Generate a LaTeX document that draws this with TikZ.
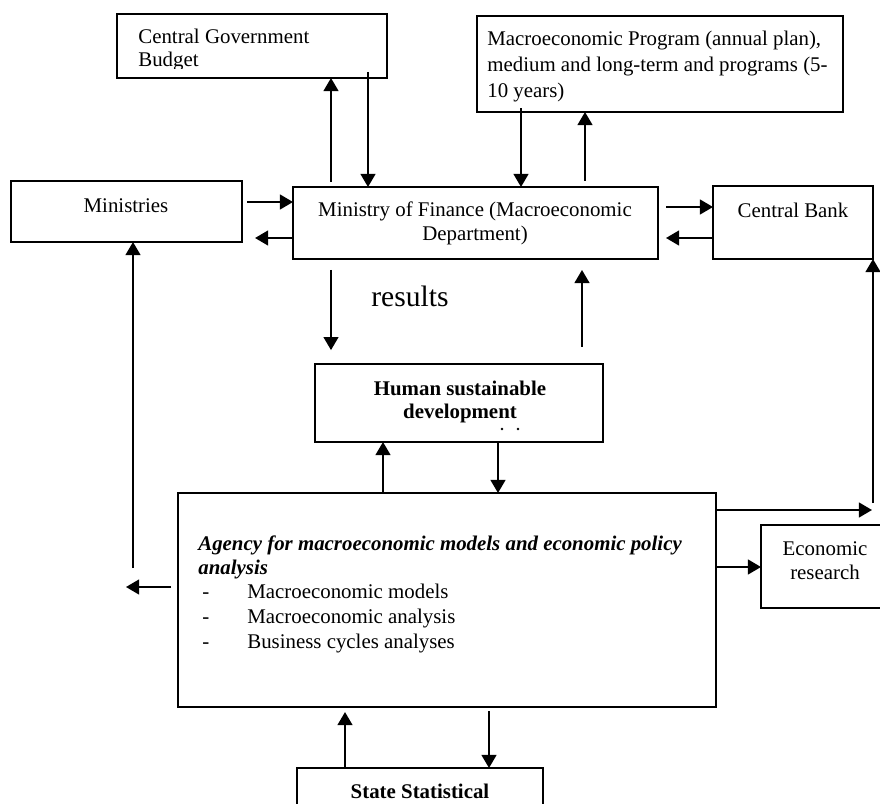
\documentclass[tikz,border=0pt]{standalone}
\usepackage{fontspec}
\setmainfont{Liberation Serif}
\usetikzlibrary{arrows.meta}
\begin{document}
\begin{tikzpicture}[x=0.575pt,y=-0.575pt,
  box/.style={draw,line width=1.1pt,anchor=north west,inner sep=0pt,outer sep=0pt},
  lbl/.style={inner sep=0pt,font=\fontsize{12}{14}\selectfont},
  arr/.style={line width=1.1pt,-{Triangle[length=7.5pt,width=8.5pt]}}]
\useasboundingbox (0,0) rectangle (880,804);

% boxes (size in px times 0.575pt)
\node[box,minimum width={270*0.575pt},minimum height={64*0.575pt}] (cgb) at (117,14) {};
\node[box,minimum width={366*0.575pt},minimum height={96*0.575pt}] (macro) at (477,16) {};
\node[box,minimum width={231*0.575pt},minimum height={61*0.575pt}] (min) at (11,181) {};
\node[box,minimum width={365*0.575pt},minimum height={72*0.575pt}] (mof) at (293,187) {};
\node[box,minimum width={160*0.575pt},minimum height={73*0.575pt}] (cb) at (713,186) {};
\node[box,minimum width={288*0.575pt},minimum height={78*0.575pt}] (hsd) at (315,364) {};
\node[box,minimum width={538*0.575pt},minimum height={214*0.575pt}] (agency) at (178,493) {};
\node[box,minimum width={130*0.575pt},minimum height={83*0.575pt}] (econ) at (761,525) {};
\node[box,minimum width={246*0.575pt},minimum height={60*0.575pt}] (state) at (297,768) {};

% texts
\node[lbl,anchor=base west] (cgbA) at (138,43) {Central Government};
\begin{scope}
  \clip (117,14) rectangle (387,68.5);
  \node[lbl,anchor=base west] (cgbB) at (138,67) {Budget};
\end{scope}
\node[lbl,anchor=base west] (macroA) at (487,45) {Macroeconomic Program (annual plan),};
\node[lbl,anchor=base west] (macroB) at (487,71) {medium and long-term and programs (5-};
\node[lbl,anchor=base west] (macroC) at (487,97) {10 years)};
\node[lbl,anchor=base] (minT) at (126,212) {Ministries};
\node[lbl,anchor=base] (mofA) at (475,216) {Ministry of Finance (Macroeconomic};
\node[lbl,anchor=base] (mofB) at (475,240) {Department)};
\node[lbl,anchor=base] (cbT) at (793,217) {Central Bank};
\node[lbl,anchor=base west,font=\fontsize{17}{20}\selectfont] (res) at (371,306) {results};
\node[lbl,anchor=base,font=\fontsize{12}{14}\selectfont\bfseries] (hsdA) at (460,395) {Human sustainable};
\node[lbl,anchor=base,font=\fontsize{12}{14}\selectfont\bfseries] (hsdB) at (460,418) {development};
\fill (502,429) circle[radius=0.8pt] (518,429) circle[radius=0.8pt];
\node[lbl,anchor=base west,font=\fontsize{12}{14}\selectfont\bfseries\itshape] (agA) at (198,550) {Agency for macroeconomic models and economic policy};
\node[lbl,anchor=base west,font=\fontsize{12}{14}\selectfont\bfseries\itshape] (agB) at (198,574) {analysis};
\node[lbl,anchor=base west] (d1) at (202,598) {-};
\node[lbl,anchor=base west] (d2) at (202,623) {-};
\node[lbl,anchor=base west] (d3) at (202,648) {-};
\node[lbl,anchor=base west] (it1) at (247,598) {Macroeconomic models};
\node[lbl,anchor=base west] (it2) at (247,623) {Macroeconomic analysis};
\node[lbl,anchor=base west] (it3) at (247,648) {Business cycles analyses};
\node[lbl,anchor=base] (ecA) at (825,555) {Economic};
\node[lbl,anchor=base] (ecB) at (825,579) {research};
\node[lbl,anchor=base,font=\fontsize{12}{14}\selectfont\bfseries] (stT) at (420,798) {State Statistical};

% connectors around the Ministry of Finance
\draw[arr,shorten <=2.9pt] (331,0 |- mof.north) -- (331,0 |- cgb.south);
\draw[arr,shorten <=-3.5pt] (368,0 |- cgb.south) -- (368,0 |- mof.north);
\draw[arr,shorten <=-2.3pt] (521,0 |- macro.south) -- (521,0 |- mof.north);
\draw[arr,shorten <=3.5pt] (585,0 |- mof.north) -- (585,0 |- macro.south);
\draw[arr,shorten <=2.9pt] (0,202 -| min.east) -- (0,202 -| mof.west);
\draw[arr,shorten >=7.5pt] (0,238 -| mof.west) -- (0,238 -| min.east);
\draw[arr,shorten <=4.6pt] (0,207 -| mof.east) -- (0,207 -| cb.west);
\draw[arr,shorten >=4.6pt] (0,238 -| cb.west) -- (0,238 -| mof.east);
\draw[arr,shorten <=6.3pt,shorten >=8pt] (331,0 |- mof.south) -- (331,0 |- hsd.north);
\draw[arr,shorten <=9.8pt,shorten >=6.3pt] (582,0 |- hsd.north) -- (582,0 |- mof.south);

% connectors around the agency
\draw[arr] (383,0 |- agency.north) -- (383,0 |- hsd.south);
\draw[arr] (498,0 |- hsd.south) -- (498,0 |- agency.north);
\coordinate (minfoot) at (133,568);
\draw[arr] (minfoot) -- (minfoot |- min.south);
\coordinate (agleft) at (126,587);
\draw[arr,shorten <=4pt] (agleft -| agency.west) -- (agleft);
\coordinate (cbturn) at (872,510);
\draw[arr] (cbturn -| agency.east) -- (cbturn);
\coordinate (cbfoot) at (873,503);
\draw[arr] (cbfoot) -- (cbfoot |- cb.south);
\draw[arr] (0,567 -| agency.east) -- (0,567 -| econ.west);
\draw[arr,shorten >=2.9pt] (345,0 |- state.north) -- (345,0 |- agency.south);
\draw[arr,shorten <=2.3pt] (489,0 |- agency.south) -- (489,0 |- state.north);
\end{tikzpicture}
\end{document}
